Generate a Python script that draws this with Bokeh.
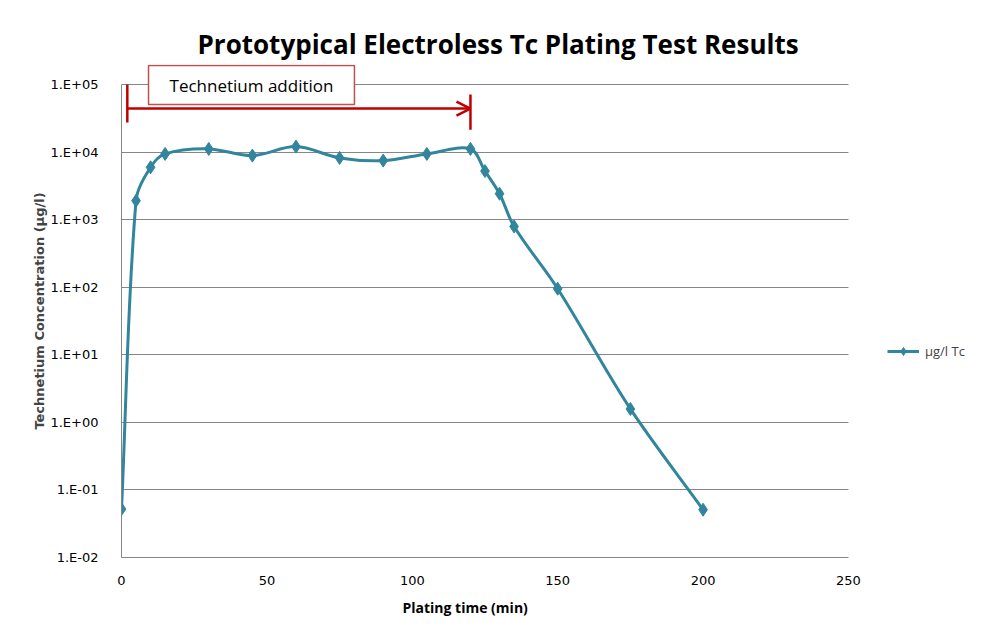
import numpy as np
from bokeh.plotting import figure
from bokeh.models import (Range1d, FixedTicker, CustomJSTickFormatter, Label, Arrow,
                          OpenHead, Legend, LegendItem, ColumnDataSource, Title)
from bokeh.embed import file_html
from bokeh.resources import INLINE

# ---- data ----
time_min = [0, 5, 10, 15, 30, 45, 60, 75, 90, 105, 120, 125, 130, 135, 150, 175, 200]
tc_ug_l = [0.052, 1910, 5960, 9400, 11150, 8870, 12050, 8200, 7480, 9400, 11150,
           5240, 2420, 792, 95, 1.58, 0.051]
series_name = "µg/l Tc"

x_ticks = [0, 50, 100, 150, 200, 250]
y_ticks = [1e-2, 1e-1, 1e0, 1e1, 1e2, 1e3, 1e4, 1e5]
y_tick_labels = ["1.E-02", "1.E-01", "1.E+00", "1.E+01", "1.E+02", "1.E+03", "1.E+04", "1.E+05"]

# annotation (Technetium addition period)
add_start, add_end = 2, 120
bracket_y = 44100
left_tick = (1e5, 27400)
right_tick = (71100, 21500)
note_text = "Technetium addition"
note_x, note_y = 44.7, 98000

TEAL = "#31859C"
RED = "#C00000"
GRID = "#868686"

# frame extends beyond the axes so the note box and the legend are not clipped
y_top = 10 ** (5 + 20 / 67.5)
x_right = 250 * 854 / 727

p = figure(width=980, height=632, x_axis_type="linear", y_axis_type="log",
           x_range=Range1d(0, x_right), y_range=Range1d(1e-2, y_top),
           output_backend="svg", toolbar_location=None,
           min_border_left=121, min_border_right=5, min_border_top=64, min_border_bottom=75)

p.title.text = "Prototypical Electroless Tc Plating Test Results"
p.title.text_font = "Open Sans"
p.title.text_font_size = "26px"
p.title.text_font_style = "bold"
p.title.align = "left"
p.title.offset = 76
p.title.standoff = 5
p.title.text_color = "black"

p.outline_line_color = None
p.xgrid.grid_line_color = None
p.ygrid.grid_line_color = GRID
p.ygrid.grid_line_width = 1
p.ygrid.cross_bounds = (x_ticks[0], x_ticks[-1])

p.xaxis.ticker = FixedTicker(ticks=x_ticks)
p.yaxis.ticker = FixedTicker(ticks=y_ticks)
p.xaxis.bounds = (x_ticks[0], x_ticks[-1])
p.yaxis.bounds = (y_ticks[0], y_ticks[-1])
p.yaxis.formatter = CustomJSTickFormatter(args=dict(labels=y_tick_labels),
                                          code="return labels[Math.round(Math.log10(tick)) + 2];")
for ax in (p.xaxis, p.yaxis):
    ax.axis_line_color = GRID
    ax.major_tick_line_color = None
    ax.minor_tick_line_color = None
    ax.major_label_text_font = "DejaVu Sans"
    ax.major_label_text_font_size = "13px"
    ax.major_label_text_color = "black"
p.yaxis.major_label_standoff = 17
p.xaxis.major_label_standoff = 12

p.yaxis.axis_label = "Technetium Concentration (µg/l)"
p.yaxis.axis_label_text_font = "DejaVu Sans"
p.yaxis.axis_label_text_font_size = "13px"
p.yaxis.axis_label_text_font_style = "bold"
p.yaxis.axis_label_standoff = 0

# x-axis title placed as a below-title so it can sit left of the frame centre, like the original
p.add_layout(Title(text="Plating time (min)", align="left", offset=281,
                   text_font="Open Sans", text_font_size="14px", text_font_style="bold",
                   text_color="black", standoff=17), "below")

# ---- smoothed line (cubic Bezier through the points, tangents scaled by segment length) ----
lx = np.array(time_min, dtype=float)
ly = np.log10(np.array(tc_ug_l, dtype=float))
sx, sy = 2.908, 67.5  # pixel scale used only to measure segment lengths
n = len(lx)
dist = np.hypot(np.diff(lx) * sx, np.diff(ly) * sy)
t = 1 / 3.0
seg = dict(x0=[], y0=[], x1=[], y1=[], cx0=[], cy0=[], cx1=[], cy1=[])


def tangent(i):
    a = max(i - 1, 0)
    d = min(i + 1, n - 1)
    return lx[d] - lx[a], ly[d] - ly[a]


for i in range(n - 1):
    dl = dist[i - 1] if i > 0 else dist[i]
    dr = dist[i + 1] if i + 1 < n - 1 else dist[i]
    tx0, ty0 = tangent(i)
    tx1, ty1 = tangent(i + 1)
    if i == 0:
        tx0, ty0 = 2 * (lx[1] - lx[0]), 2 * (ly[1] - ly[0])
    if i + 1 == n - 1:
        tx1, ty1 = 2 * (lx[-1] - lx[-2]), 2 * (ly[-1] - ly[-2])
    f0 = t * dist[i] / (dl + dist[i])
    f1 = t * dist[i] / (dist[i] + dr)
    seg["x0"].append(lx[i]); seg["y0"].append(10 ** ly[i])
    seg["x1"].append(lx[i + 1]); seg["y1"].append(10 ** ly[i + 1])
    seg["cx0"].append(lx[i] + tx0 * f0); seg["cy0"].append(10 ** (ly[i] + ty0 * f0))
    seg["cx1"].append(lx[i + 1] - tx1 * f1); seg["cy1"].append(10 ** (ly[i + 1] - ty1 * f1))

curve = p.bezier(source=ColumnDataSource(seg), x0="x0", y0="y0", x1="x1", y1="y1",
                 cx0="cx0", cy0="cy0", cx1="cx1", cy1="cy1", line_color=TEAL, line_width=3)
pts = p.scatter(time_min, tc_ug_l, marker="diamond", size=13, fill_color=TEAL, line_color=TEAL)

# ---- annotation ----
p.segment(x0=[add_start], y0=[left_tick[0]], x1=[add_start], y1=[left_tick[1]],
          line_color=RED, line_width=2.5)
p.segment(x0=[add_end], y0=[right_tick[0]], x1=[add_end], y1=[right_tick[1]],
          line_color=RED, line_width=2.5)
p.add_layout(Arrow(x_start=add_start, y_start=bracket_y, x_end=add_end, y_end=bracket_y,
                   line_color=RED, line_width=2.5,
                   end=OpenHead(size=14, line_color=RED, line_width=2.5)))
p.add_layout(Label(x=note_x, y=note_y, text=note_text, text_align="center",
                   text_baseline="middle", text_font="Open Sans", text_font_size="17px",
                   text_color="black", background_fill_color="white",
                   border_line_color="#C0504D", border_line_width=1.5, padding=(21, 8)))

legend = Legend(items=[LegendItem(label=series_name, renderers=[curve, pts])],
                location=(766, 196), padding=0, margin=0, spacing=0,
                glyph_width=32, glyph_height=20, label_standoff=6,
                label_text_font="Open Sans", label_text_font_size="13px",
                border_line_color=None, background_fill_alpha=0)
p.add_layout(legend, "center")

open("out.html", "w").write(file_html(p, INLINE))
